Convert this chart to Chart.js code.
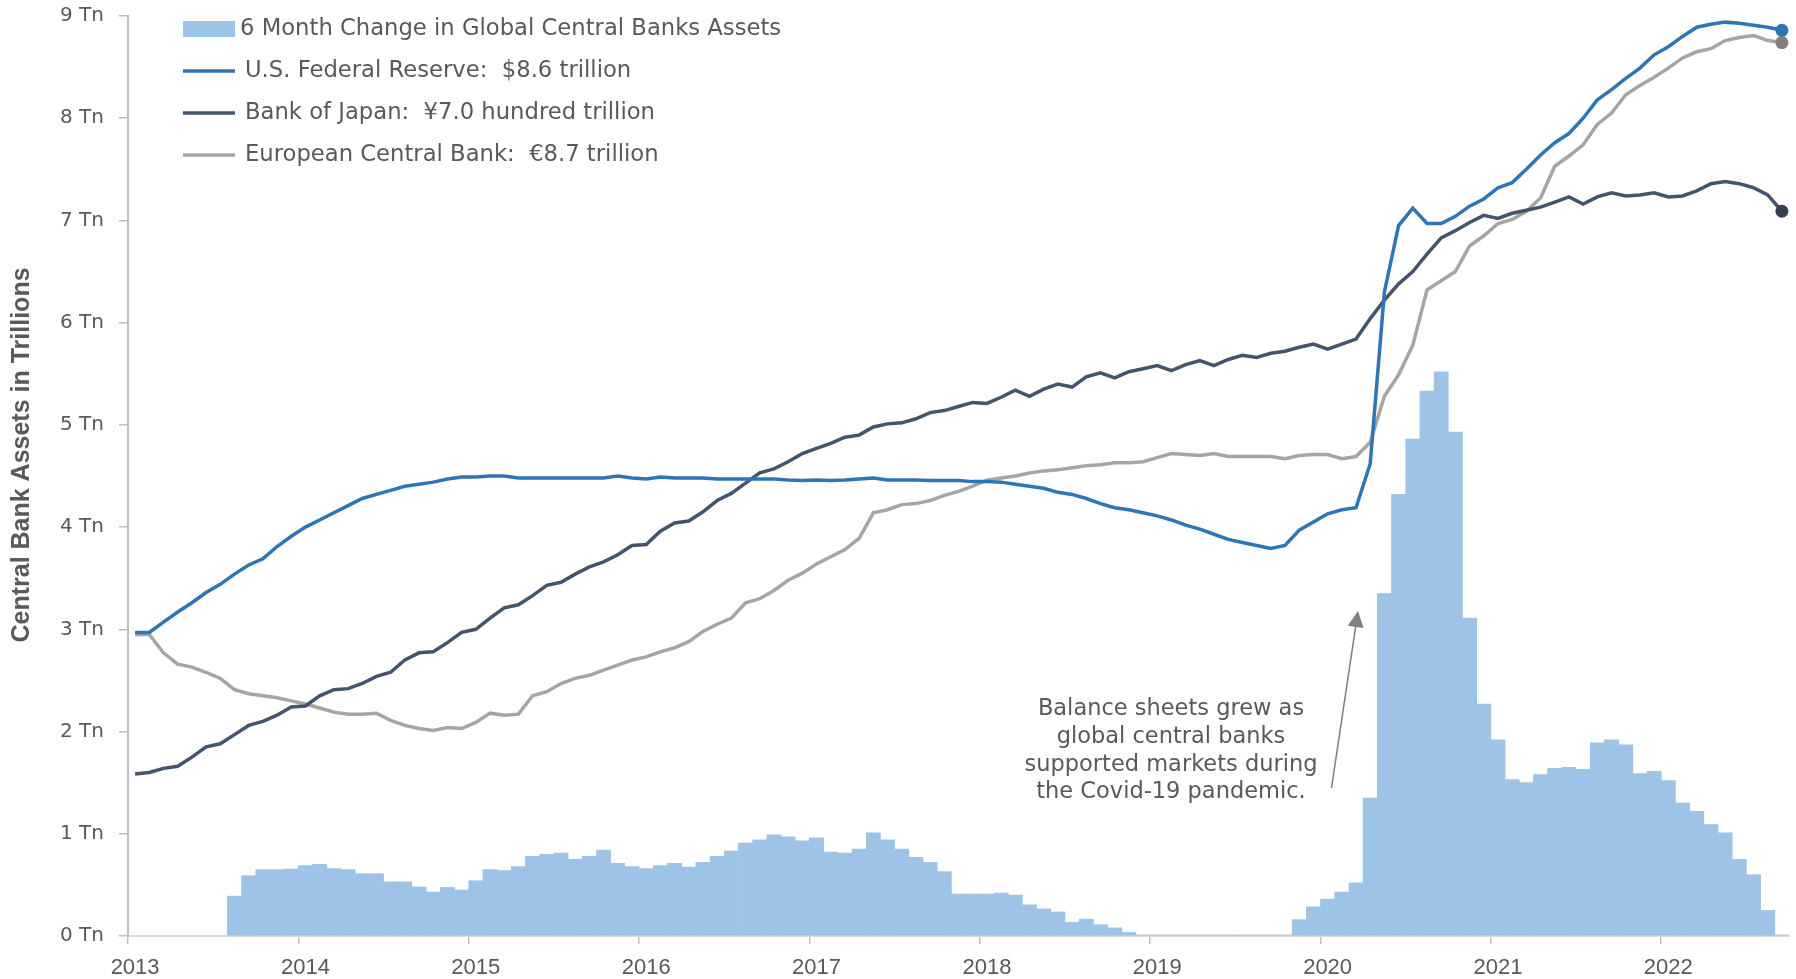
<!DOCTYPE html>
<html>
<head>
<meta charset="utf-8">
<script src="https://cdn.jsdelivr.net/npm/chart.js@4.4.1/dist/chart.umd.min.js"></script>
<style>
  html, body { margin: 0; padding: 0; background: #fff; }
  #wrap { width: 1796px; height: 979px; }
</style>
</head>
<body>
<div id="wrap"><canvas id="chart" width="1796" height="979"></canvas></div>
<script>
// monthly, Jan 2013 .. Sep 2022
const startYear = 2013;
const monthCount = 117;
const months = [];
for (let i = 0; i < monthCount; i++) {
  months.push(`${startYear + Math.floor(i / 12)}-${String((i % 12) + 1).padStart(2, "0")}`);
}

// trillions USD
const fedAssets = [
  2.97, 2.97, 3.07, 3.17, 3.26, 3.36, 3.44, 3.54, 3.63, 3.69,
  3.81, 3.91, 4.00, 4.07, 4.14, 4.21, 4.28, 4.32, 4.36, 4.40,
  4.42, 4.44, 4.47, 4.49, 4.49, 4.50, 4.50, 4.48, 4.48, 4.48,
  4.48, 4.48, 4.48, 4.48, 4.50, 4.48, 4.47, 4.49, 4.48, 4.48,
  4.48, 4.47, 4.47, 4.47, 4.47, 4.47, 4.46, 4.455, 4.46, 4.455,
  4.46, 4.47, 4.48, 4.46, 4.46, 4.46, 4.455, 4.455, 4.455, 4.445,
  4.445, 4.44, 4.42, 4.40, 4.38, 4.34, 4.32, 4.28, 4.23, 4.19,
  4.17, 4.14, 4.11, 4.07, 4.02, 3.98, 3.93, 3.88, 3.85, 3.82,
  3.79, 3.82, 3.97, 4.05, 4.13, 4.17, 4.19, 4.62, 6.30, 6.95,
  7.12, 6.97, 6.97, 7.04, 7.14, 7.21, 7.32, 7.37, 7.50, 7.64,
  7.76, 7.85, 8.00, 8.18, 8.28, 8.39, 8.49, 8.62, 8.70, 8.80,
  8.89, 8.92, 8.94, 8.93, 8.91, 8.89, 8.86,
];
const bojAssets = [
  1.585, 1.60, 1.64, 1.66, 1.75, 1.85, 1.88, 1.97, 2.06, 2.10,
  2.16, 2.24, 2.25, 2.35, 2.41, 2.42, 2.47, 2.54, 2.58, 2.70,
  2.77, 2.78, 2.87, 2.97, 3.00, 3.11, 3.21, 3.24, 3.33, 3.43,
  3.46, 3.54, 3.61, 3.66, 3.73, 3.82, 3.83, 3.96, 4.04, 4.06,
  4.15, 4.26, 4.33, 4.43, 4.53, 4.57, 4.64, 4.72, 4.77, 4.82,
  4.88, 4.90, 4.98, 5.01, 5.02, 5.06, 5.12, 5.14, 5.18, 5.22,
  5.21, 5.27, 5.34, 5.28, 5.35, 5.40, 5.37, 5.47, 5.51, 5.46,
  5.52, 5.55, 5.58, 5.53, 5.59, 5.63, 5.58, 5.64, 5.68, 5.66,
  5.70, 5.72, 5.76, 5.79, 5.74, 5.79, 5.84, 6.04, 6.22, 6.38,
  6.50, 6.67, 6.83, 6.90, 6.98, 7.05, 7.02, 7.07, 7.10, 7.13,
  7.18, 7.23, 7.16, 7.23, 7.27, 7.24, 7.25, 7.27, 7.23, 7.24,
  7.29, 7.36, 7.38, 7.36, 7.32, 7.25, 7.09,
];
const ecbAssets = [
  2.95, 2.95, 2.77, 2.66, 2.63, 2.58, 2.52, 2.41, 2.37, 2.35,
  2.33, 2.30, 2.27, 2.23, 2.19, 2.17, 2.17, 2.18, 2.11, 2.06,
  2.03, 2.01, 2.04, 2.03, 2.09, 2.18, 2.16, 2.17, 2.35, 2.39,
  2.47, 2.52, 2.55, 2.60, 2.65, 2.70, 2.73, 2.78, 2.82, 2.88,
  2.98, 3.05, 3.11, 3.26, 3.30, 3.38, 3.48, 3.55, 3.64, 3.71,
  3.78, 3.89, 4.14, 4.17, 4.22, 4.23, 4.26, 4.31, 4.35, 4.40,
  4.46, 4.48, 4.50, 4.53, 4.55, 4.56, 4.58, 4.60, 4.61, 4.63,
  4.63, 4.64, 4.68, 4.72, 4.71, 4.70, 4.72, 4.69, 4.69, 4.69,
  4.69, 4.67, 4.70, 4.71, 4.71, 4.67, 4.69, 4.83, 5.28, 5.49,
  5.78, 6.32, 6.41, 6.50, 6.75, 6.85, 6.97, 7.01, 7.09, 7.22,
  7.53, 7.63, 7.74, 7.94, 8.05, 8.23, 8.32, 8.40, 8.49, 8.59,
  8.65, 8.68, 8.76, 8.79, 8.81, 8.76, 8.74,
];
const sixMonthChange = [
  null, null, null, null, null, null, null, 0.39, 0.59, 0.65,
  0.65, 0.655, 0.69, 0.70, 0.66, 0.65, 0.61, 0.61, 0.53, 0.53,
  0.48, 0.43, 0.475, 0.45, 0.54, 0.65, 0.64, 0.68, 0.78, 0.80,
  0.81, 0.75, 0.78, 0.84, 0.71, 0.68, 0.66, 0.69, 0.71, 0.675,
  0.72, 0.78, 0.83, 0.91, 0.94, 0.99, 0.97, 0.93, 0.96, 0.82,
  0.81, 0.85, 1.01, 0.94, 0.85, 0.77, 0.72, 0.63, 0.41, 0.41,
  0.41, 0.42, 0.40, 0.305, 0.265, 0.235, 0.135, 0.165, 0.11, 0.08,
  0.035, 0.01, 0.01, 0.01, 0.01, 0.01, 0.01, 0.01, 0.01, 0.01,
  0.01, 0.01, 0.16, 0.285, 0.36, 0.43, 0.52, 1.35, 3.35, 4.32,
  4.86, 5.33, 5.52, 4.93, 3.11, 2.27, 1.92, 1.53, 1.50, 1.58,
  1.64, 1.65, 1.63, 1.89, 1.92, 1.87, 1.59, 1.61, 1.52, 1.30,
  1.22, 1.09, 1.01, 0.75, 0.60, 0.25, 0.01,
];

const legendLabels = [
  "6 Month Change in Global Central Banks Assets",
  "U.S. Federal Reserve:  $8.6 trillion",
  "Bank of Japan:  ¥7.0 hundred trillion",
  "European Central Bank:  €8.7 trillion",
];
const yTitle = "Central Bank Assets in Trillions";
const noteLines = [
  "Balance sheets grew as",
  "global central banks",
  "supported markets during",
  "the Covid-19 pandemic.",
];

const FED = "#2E75B6";
const BOJ = "#44546A";
const ECB = "#A5A5A5";
const BAR = "#9DC3E6";
const TEXT = "#595959";

function endDot(color) {
  return {
    pointRadius: (ctx) => (ctx.dataIndex === monthCount - 1 ? 6.5 : 0),
    pointBackgroundColor: color,
    pointBorderWidth: 0,
    pointHoverRadius: 0,
  };
}

const overlay = {
  id: "overlay",
  afterDraw(chart) {
    const ctx = chart.ctx;
    ctx.save();

    // legend
    ctx.font = '22.7px "DejaVu Sans"';
    ctx.textBaseline = "middle";
    ctx.textAlign = "left";
    const swatches = [BAR, FED, BOJ, ECB];
    legendLabels.forEach((label, i) => {
      const y = 29 + i * 42;
      if (i === 0) {
        ctx.fillStyle = BAR;
        ctx.fillRect(183, y - 8, 52, 16);
      } else {
        ctx.strokeStyle = swatches[i];
        ctx.lineWidth = 3.5;
        ctx.beginPath();
        ctx.moveTo(183, y);
        ctx.lineTo(235, y);
        ctx.stroke();
      }
      ctx.fillStyle = TEXT;
      ctx.fillText(label, i === 0 ? 240 : 245, y);
    });

    // y axis title
    ctx.save();
    ctx.translate(22, 455);
    ctx.rotate(-Math.PI / 2);
    ctx.font = 'bold 25px "Liberation Sans"';
    ctx.textAlign = "center";
    ctx.fillStyle = TEXT;
    ctx.fillText(yTitle, 0, 0);
    ctx.restore();

    // annotation
    ctx.font = '22.5px "DejaVu Sans"';
    ctx.textAlign = "center";
    ctx.fillStyle = TEXT;
    noteLines.forEach((line, i) => ctx.fillText(line, 1171, 709.5 + i * 27.7));

    // arrow
    const x0 = 1331.5, y0 = 788, x1 = 1358, y1 = 611;
    const ang = Math.atan2(y1 - y0, x1 - x0);
    ctx.strokeStyle = "#7F7F7F";
    ctx.fillStyle = "#7F7F7F";
    ctx.lineWidth = 1.5;
    ctx.beginPath();
    ctx.moveTo(x0, y0);
    ctx.lineTo(x1 - Math.cos(ang) * 10, y1 - Math.sin(ang) * 10);
    ctx.stroke();
    ctx.beginPath();
    ctx.moveTo(x1, y1);
    ctx.lineTo(x1 - Math.cos(ang) * 16 + Math.sin(ang) * 8, y1 - Math.sin(ang) * 16 - Math.cos(ang) * 8);
    ctx.lineTo(x1 - Math.cos(ang) * 16 - Math.sin(ang) * 8, y1 - Math.sin(ang) * 16 + Math.cos(ang) * 8);
    ctx.closePath();
    ctx.fill();

    ctx.restore();
  },
};

new Chart(document.getElementById("chart"), {
  type: "bar",
  data: {
    labels: months,
    datasets: [
      {
        type: "line",
        label: legendLabels[1],
        data: fedAssets,
        borderColor: FED,
        borderWidth: 3.5,
        tension: 0,
        clip: false,
        ...endDot(FED),
      },
      {
        type: "line",
        label: legendLabels[2],
        data: bojAssets,
        borderColor: BOJ,
        borderWidth: 3.5,
        tension: 0,
        clip: false,
        ...endDot("#333F50"),
      },
      {
        type: "line",
        label: legendLabels[3],
        data: ecbAssets,
        borderColor: ECB,
        borderWidth: 3.5,
        tension: 0,
        clip: false,
        ...endDot("#808080"),
      },
      {
        type: "bar",
        label: legendLabels[0],
        data: sixMonthChange,
        backgroundColor: BAR,
        borderWidth: 0,
        barPercentage: 1,
        categoryPercentage: 1,
      },
    ],
  },
  options: {
    responsive: false,
    devicePixelRatio: 1,
    animation: false,
    layout: { padding: { left: 0, right: 7, top: 16, bottom: 0 } },
    plugins: {
      legend: { display: false },
      tooltip: { enabled: false },
    },
    scales: {
      x: {
        type: "category",
        offset: true,
        afterFit: (scale) => { scale.height = 43; },
        grid: {
          offset: true,
          drawOnChartArea: false,
          drawTicks: true,
          tickLength: 8,
          lineWidth: 1.5,
          color: (ctx) => (ctx.index % 12 === 0 ? "#BFBFBF" : "rgba(0,0,0,0)"),
        },
        border: { color: "#D9D9D9", width: 2 },
        ticks: {
          autoSkip: false,
          maxRotation: 0,
          minRotation: 0,
          padding: 11,
          color: TEXT,
          font: { family: "Liberation Sans", size: 22 },
          callback: (val, idx) => (idx % 12 === 0 ? months[idx].slice(0, 4) : ""),
        },
      },
      y: {
        min: 0,
        max: 9,
        afterFit: (scale) => {
          scale.width = 128;
          scale.paddingTop = 0;
          scale.paddingBottom = 0;
        },
        grid: {
          drawOnChartArea: false,
          drawTicks: true,
          tickLength: 9,
          lineWidth: 1.5,
          color: "#BFBFBF",
        },
        border: { color: "#BFBFBF", width: 2 },
        ticks: {
          stepSize: 1,
          padding: 15,
          color: TEXT,
          font: { family: "DejaVu Sans", size: 20 },
          callback: (v) => `${v} Tn`,
        },
      },
    },
  },
  plugins: [overlay],
});
</script>
</body>
</html>
